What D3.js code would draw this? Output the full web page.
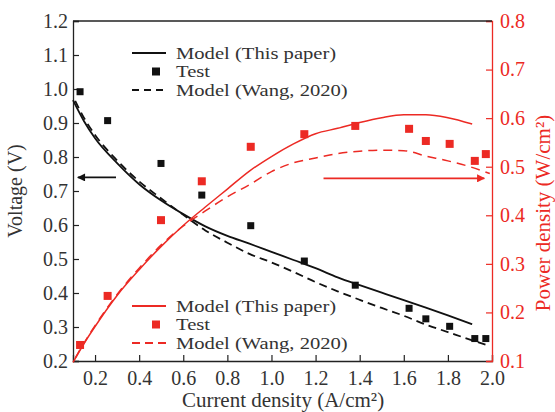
<!DOCTYPE html>
<html>
<head>
<meta charset="utf-8">
<script src="https://cdn.jsdelivr.net/npm/d3@7"></script>
<style>
	body { margin: 0; background: #fff; }
</style>
</head>
<body>
<script>
// current density for the two model curves (A/cm2)
var currentModel = [0.10, 0.15, 0.20, 0.30, 0.40, 0.50, 0.60, 0.70, 0.80, 0.90, 1.00, 1.10, 1.20, 1.30, 1.40, 1.50, 1.60, 1.70, 1.80, 1.91];
var voltageModel = [0.967, 0.905, 0.855, 0.782, 0.720, 0.672, 0.632, 0.596, 0.568, 0.545, 0.521, 0.497, 0.473, 0.446, 0.423, 0.401, 0.379, 0.357, 0.334, 0.308];
var powerModel = [0.097, 0.136, 0.171, 0.235, 0.288, 0.336, 0.379, 0.417, 0.454, 0.491, 0.521, 0.547, 0.568, 0.579, 0.591, 0.601, 0.607, 0.607, 0.601, 0.588];

var currentWang = [0.11, 0.15, 0.20, 0.30, 0.40, 0.50, 0.60, 0.70, 0.80, 0.90, 1.00, 1.10, 1.20, 1.30, 1.40, 1.50, 1.60, 1.70, 1.80, 1.90, 1.99];
var voltageWang = [0.965, 0.915, 0.865, 0.790, 0.728, 0.678, 0.630, 0.584, 0.548, 0.515, 0.490, 0.462, 0.432, 0.405, 0.380, 0.356, 0.333, 0.307, 0.285, 0.263, 0.244];
var powerWang = [0.106, 0.137, 0.173, 0.237, 0.291, 0.339, 0.378, 0.409, 0.438, 0.463, 0.490, 0.508, 0.518, 0.527, 0.532, 0.534, 0.533, 0.522, 0.512, 0.500, 0.486];

// test points
var currentTest = [0.132, 0.257, 0.499, 0.684, 0.906, 1.149, 1.380, 1.624, 1.700, 1.808, 1.922, 1.972];
var voltageTest = [0.992, 0.907, 0.781, 0.688, 0.598, 0.494, 0.423, 0.355, 0.324, 0.302, 0.266, 0.266];
var powerTest = [0.133, 0.234, 0.390, 0.470, 0.541, 0.567, 0.584, 0.578, 0.553, 0.547, 0.512, 0.526];

// tick values
var xTicks = [0.2, 0.4, 0.6, 0.8, 1.0, 1.2, 1.4, 1.6, 1.8, 2.0];
var vTicks = [0.2, 0.3, 0.4, 0.5, 0.6, 0.7, 0.8, 0.9, 1.0, 1.1, 1.2];
var pTicks = [0.1, 0.2, 0.3, 0.4, 0.5, 0.6, 0.7, 0.8];

var legendLabels = ["Model (This paper)", "Test", "Model (Wang, 2020)"];

var RED = "#ec2a24";
var INK = "#222";
var FONT = "'Liberation Serif', 'Times New Roman', Tinos, serif";

// initial configurations parameters
var margin = { top: 21, right: 63, bottom: 51, left: 73 };
var width = 555 - margin.left - margin.right;
var height = 412 - margin.top - margin.bottom;

var svg = d3.select("body")
	.append("svg")
	.attr("width", 555)
	.attr("height", 412)
	.attr("font-family", FONT)
	.append("g")
	.attr("transform", "translate(" + margin.left + "," + margin.top + ")");

var x = d3.scaleLinear().domain([0.1, 2.0]).range([0, width]);
var yV = d3.scaleLinear().domain([0.2, 1.2]).range([height, 0]);
var yP = d3.scaleLinear().domain([0.1, 0.8]).range([height, 0]);

function zip(a, b) {
	return a.map(function(d, i) { return [d, b[i]]; });
}

// axes (ticks point inwards)
var xAxis = d3.axisBottom(x).tickValues(xTicks).tickSize(-6).tickPadding(10).tickFormat(d3.format(".1f"));
var gx = svg.append("g")
	.attr("transform", "translate(0," + height + ")")
	.call(xAxis);

var yAxisL = d3.axisLeft(yV).tickValues(vTicks).tickSize(-6).tickPadding(5).tickFormat(d3.format(".1f"));
var gl = svg.append("g").call(yAxisL);

var yAxisR = d3.axisRight(yP).tickValues(pTicks).tickSize(-6).tickPadding(8).tickFormat(d3.format(".1f"));
var gr = svg.append("g")
	.attr("transform", "translate(" + width + ",0)")
	.call(yAxisR);

[gx, gl].forEach(function(g) {
	g.attr("font-family", FONT).attr("font-size", 20);
	g.select(".domain").attr("stroke", INK).attr("stroke-width", 1.3);
	g.selectAll(".tick line").attr("stroke", INK).attr("stroke-width", 1.2);
	g.selectAll(".tick text").attr("fill", "#333");
});
gr.attr("font-family", FONT).attr("font-size", 20);
gr.select(".domain").attr("stroke", RED).attr("stroke-width", 1.3);
gr.selectAll(".tick line").attr("stroke", RED).attr("stroke-width", 1.2);
gr.selectAll(".tick text").attr("fill", RED);

// top frame line
svg.append("line")
	.attr("x1", 0).attr("x2", width)
	.attr("y1", 0).attr("y2", 0)
	.attr("stroke", INK).attr("stroke-width", 1.3);

// axis titles
svg.append("text")
	.attr("transform", "translate(-51," + (height / 2) + ") rotate(-90)")
	.attr("text-anchor", "middle")
	.attr("fill", "#333")
	.attr("font-size", 20)
	.text("Voltage (V)");

svg.append("text")
	.attr("transform", "translate(" + (width + 58) + "," + (height / 2 + 22) + ") rotate(-90)")
	.attr("text-anchor", "middle")
	.attr("fill", RED)
	.attr("font-size", 21)
	.text("Power density (W/cm²)");

svg.append("text")
	.attr("x", 210)
	.attr("y", height + 46)
	.attr("text-anchor", "middle")
	.attr("fill", "#333")
	.attr("font-size", 21)
	.text("Current density (A/cm²)");

// lines
var line = d3.line()
	.curve(d3.curveMonotoneX)
	.x(function(d) { return x(d[0]); });

svg.append("path")
	.datum(zip(currentModel, voltageModel))
	.attr("fill", "none").attr("stroke", "#111").attr("stroke-width", 1.8)
	.attr("d", line.y(function(d) { return yV(d[1]); }));

svg.append("path")
	.datum(zip(currentWang, voltageWang))
	.attr("fill", "none").attr("stroke", "#111").attr("stroke-width", 1.8)
	.attr("stroke-dasharray", "8,5")
	.attr("d", line.y(function(d) { return yV(d[1]); }));

svg.append("path")
	.datum(zip(currentModel, powerModel))
	.attr("fill", "none").attr("stroke", RED).attr("stroke-width", 1.5)
	.attr("d", line.y(function(d) { return yP(d[1]); }));

svg.append("path")
	.datum(zip(currentWang, powerWang))
	.attr("fill", "none").attr("stroke", RED).attr("stroke-width", 1.5)
	.attr("stroke-dasharray", "9,6")
	.attr("d", line.y(function(d) { return yP(d[1]); }));

// test squares
var sq = 7;
svg.selectAll(".vtest")
	.data(zip(currentTest, voltageTest))
	.enter().append("rect")
	.attr("x", function(d) { return x(d[0]) - sq / 2; })
	.attr("y", function(d) { return yV(d[1]) - sq / 2; })
	.attr("width", sq).attr("height", sq)
	.attr("fill", "#111");

svg.selectAll(".ptest")
	.data(zip(currentTest, powerTest))
	.enter().append("rect")
	.attr("x", function(d) { return x(d[0]) - 4; })
	.attr("y", function(d) { return yP(d[1]) - 4; })
	.attr("width", 8).attr("height", 8)
	.attr("fill", RED);

// arrows, placed in data units
var defs = svg.append("defs");
[["headK", "#111"], ["headR", RED]].forEach(function(m) {
	defs.append("marker")
		.attr("id", m[0])
		.attr("viewBox", "0 0 10 10")
		.attr("refX", 9).attr("refY", 5)
		.attr("markerWidth", 11).attr("markerHeight", 8)
		.attr("markerUnits", "userSpaceOnUse")
		.attr("orient", "auto")
		.append("path")
		.attr("d", "M0,0L10,5L0,10z")
		.attr("fill", m[1]);
});

svg.append("line")
	.attr("x1", x(0.295)).attr("x2", x(0.122))
	.attr("y1", yV(0.74)).attr("y2", yV(0.74))
	.attr("stroke", "#111").attr("stroke-width", 1.6)
	.attr("marker-end", "url(#headK)");

svg.append("line")
	.attr("x1", x(1.236)).attr("x2", x(1.965))
	.attr("y1", yP(0.476)).attr("y2", yP(0.476))
	.attr("stroke", RED).attr("stroke-width", 1.6)
	.attr("marker-end", "url(#headR)");

// legends; the source type is wide and short, so stretch it sideways
function legend(g, color, dash) {
	legendLabels.forEach(function(label, i) {
		var yy = i * 18.5;
		if (i == 1) {
			g.append("rect")
				.attr("x", 24 - 4).attr("y", yy - 4)
				.attr("width", 8).attr("height", 8)
				.attr("fill", color);
		} else {
			g.append("line")
				.attr("x1", 0).attr("x2", 34)
				.attr("y1", yy).attr("y2", yy)
				.attr("stroke", color).attr("stroke-width", 1.8)
				.attr("stroke-dasharray", i == 2 ? dash : null);
		}
		g.append("text")
			.attr("transform", "translate(44," + (yy + 5.5) + ") scale(1.25,1)")
			.attr("fill", "#333")
			.attr("font-size", 16.5)
			.text(label);
	});
}

legend(svg.append("g").attr("transform", "translate(59,32)"), "#111", "7,5");
legend(svg.append("g").attr("transform", "translate(59,285)"), RED, "8,5");
</script>
</body>
</html>
